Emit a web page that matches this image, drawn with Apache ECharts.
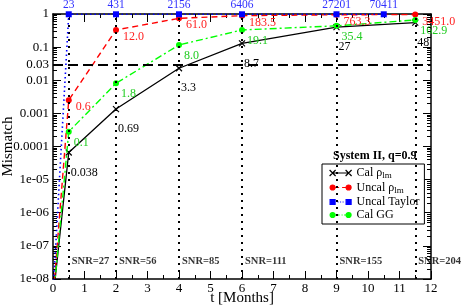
<!DOCTYPE html>
<html><head><meta charset="utf-8">
<script src="https://cdn.jsdelivr.net/npm/echarts@6/dist/echarts.min.js"></script>
<style>html,body{margin:0;padding:0;background:#fff}#c{width:463px;height:308px}</style>
</head><body><div id="c"></div>
<script>
// ---- data ----
const months = [0, 0.5, 2, 4, 6, 9, 11.5];
const taylorMonths = [0, 0.5, 2, 4, 6, 9, 10.5];
const calRho = [2.5e-9, 6.6e-5, 1.35e-3, 0.023, 0.13, 0.40, 0.55];
const uncalRho = [2.6e-9, 2.5e-3, 0.33, 0.74, 0.89, 0.95, 0.96];
const uncalTaylor = [3.5e-9, 0.98, 0.98, 0.98, 0.98, 0.98, 0.98];
const calGG = [2e-9, 2.8e-4, 8.1e-3, 0.116, 0.33, 0.44, 0.66];
const calRhoLabels = ['', '0.038', '0.69', '3.3', '8.7', '27', '48'];
const uncalRhoLabels = ['', '0.6', '12.0', '61.0', '183.5', '763.3', '3451.0'];
const taylorLabels = ['', '23', '431', '2156', '6406', '27201', '70411'];
const calGGLabels = ['', '0.1', '1.8', '8.0', '19.1', '35.4', '162.9'];
const snrMonths = [0.5, 2, 4, 6, 9, 11.5];
const snrLabels = ['SNR=27', 'SNR=56', 'SNR=85', 'SNR=111', 'SNR=155', 'SNR=204'];
const snrAnchor = 3.5e-8;
const threshold = 0.03;
const yTickValues = [1e-8, 1e-7, 1e-6, 1e-5, 1e-4, 1e-3, 0.01, 0.03, 0.1, 1];
const yTickLabels = ['1e-08', '1e-07', '1e-06', '1e-05', '0.0001', '0.001', '0.01', '0.03', '0.1', '1'];
const yMajor = [1e-8, 1e-7, 1e-6, 1e-5, 1e-4, 1e-3, 0.01, 0.1, 1];
const seriesNames = ['Cal ρlm', 'Uncal ρlm', 'Uncal Taylor', 'Cal GG'];
const legendTexts = ['Cal ρ{s|lm}', 'Uncal ρ{s|lm}', 'Uncal Taylor', 'Cal GG'];

// ---- build ----
const yMinor = [];
for (let e = -8; e < 0; e++) for (let m = 2; m <= 9; m++) yMinor.push(m * Math.pow(10, e));
const FONT = 'Liberation Serif';
const pairs = (xs, ys) => xs.map((x, i) => [x, ys[i]]);
function yLabel(v) {
  for (let i = 0; i < yTickValues.length; i++) {
    if (Math.abs(Math.log10(v) - Math.log10(yTickValues[i])) < 1e-6) return yTickLabels[i];
  }
  return '';
}
const AL = { show: true, onZero: false, lineStyle: { color: '#000', width: 1.5 } };
const baseY = { type: 'log', logBase: 10, min: 1e-8, max: 1, splitLine: { show: false } };
const chart = echarts.init(document.getElementById('c'), null, { renderer: 'canvas' });
chart.setOption({
  animation: false,
  backgroundColor: '#fff',
  grid: { left: 53, right: 32, top: 14, bottom: 29, outerBoundsMode: 'none' },
  title: {
    text: 'System II, q=0.9', left: 333, top: 150, padding: 0,
    textStyle: { fontFamily: FONT, fontSize: 12, fontWeight: 'bold', color: '#000' }
  },
  legend: {
    orient: 'vertical', left: 322, top: 164, padding: [3, 5, 3, 7], itemGap: 1,
    itemWidth: 22, itemHeight: 6, backgroundColor: '#fff', borderColor: '#000', borderWidth: 1,
    selectedMode: false,
    formatter: name => legendTexts[seriesNames.indexOf(name)],
    textStyle: {
      fontFamily: FONT, fontSize: 12, color: '#000',
      rich: { s: { fontFamily: FONT, fontSize: 9, color: '#000', padding: [6, 0, 0, 0] } }
    },
    data: [
      { name: seriesNames[0], icon: 'path://M0,0L6,6M6,0L0,6M16,0L22,6M22,0L16,6M3,3L19,3', itemStyle: { color: '#000', borderColor: '#000', borderWidth: 1.2 } },
      { name: seriesNames[1], icon: 'path://M0.5,3A2.5,2.5 0 1,1 5.5,3A2.5,2.5 0 1,1 0.5,3ZM16.5,3A2.5,2.5 0 1,1 21.5,3A2.5,2.5 0 1,1 16.5,3ZM6,3L9.5,3M12.5,3L16,3M0,0M22,6', itemStyle: { color: '#f00', borderColor: '#f00', borderWidth: 1.2 } },
      { name: seriesNames[2], icon: 'path://M0.5,0.5L5.5,0.5L5.5,5.5L0.5,5.5ZM16.5,0.5L21.5,0.5L21.5,5.5L16.5,5.5ZM8,3L9,3M10.5,3L11.5,3M13,3L14,3M0,0M22,6', itemStyle: { color: '#00f', borderColor: '#00f', borderWidth: 1.2 } },
      { name: seriesNames[3], icon: 'path://M0.5,3A2.5,2.5 0 1,1 5.5,3A2.5,2.5 0 1,1 0.5,3ZM16.5,3A2.5,2.5 0 1,1 21.5,3A2.5,2.5 0 1,1 16.5,3ZM6,3L10,3M12,3L13,3M14.5,3L16,3M0,0M22,6', itemStyle: { color: '#0f0', borderColor: '#0f0', borderWidth: 1.2 } }
    ]
  },
  xAxis: [
    {
      type: 'value', min: 0, max: 12, interval: 1, position: 'bottom',
      name: 't [Months]', nameLocation: 'middle', nameGap: 12, nameMoveOverlap: false,
      nameTextStyle: { fontFamily: FONT, fontSize: 15, color: '#000' },
      axisLine: AL,
      axisTick: { show: true, inside: true, length: 8, lineStyle: { color: '#000', width: 1 } },
      minorTick: { show: true, splitNumber: 2, length: 4, lineStyle: { color: '#000', width: 1 } },
      axisLabel: { fontFamily: FONT, fontSize: 13, color: '#000', margin: 3 },
      splitLine: { show: false }
    },
    {
      type: 'value', min: 0, max: 12, interval: 1, position: 'top',
      axisLine: AL,
      axisTick: { show: true, inside: true, length: 8, lineStyle: { color: '#000', width: 1 } },
      minorTick: { show: true, splitNumber: 2, length: 4, lineStyle: { color: '#000', width: 1 } },
      axisLabel: { show: false },
      splitLine: { show: false }
    }
  ],
  yAxis: [
    Object.assign({}, baseY, {
      position: 'left',
      name: 'Mismatch', nameLocation: 'middle', nameGap: 37, nameRotate: 90, nameMoveOverlap: false,
      nameTextStyle: { fontFamily: FONT, fontSize: 15, color: '#000' },
      axisLine: AL,
      axisTick: { show: true, inside: true, length: 8, customValues: yMajor, lineStyle: { color: '#000', width: 1 } },
      axisLabel: { fontFamily: FONT, fontSize: 13, color: '#000', margin: 4, customValues: yTickValues, formatter: yLabel }
    }),
    Object.assign({}, baseY, {
      position: 'left',
      axisLine: { show: false, onZero: false },
      axisTick: { show: true, inside: true, length: 4, customValues: yMinor, lineStyle: { color: '#000', width: 1 } },
      axisLabel: { show: false }
    }),
    Object.assign({}, baseY, {
      position: 'right',
      axisLine: AL,
      axisTick: { show: true, inside: true, length: 8, customValues: yMajor, lineStyle: { color: '#000', width: 1 } },
      axisLabel: { show: false }
    }),
    Object.assign({}, baseY, {
      position: 'right',
      axisLine: { show: false, onZero: false },
      axisTick: { show: true, inside: true, length: 4, customValues: yMinor, lineStyle: { color: '#000', width: 1 } },
      axisLabel: { show: false }
    })
  ],
  series: [
    {
      name: seriesNames[0], type: 'line', data: pairs(months, calRho), z: 3,
      symbol: 'path://M0,0L10,10M10,0L0,10', symbolSize: 6,
      itemStyle: { color: '#000', borderColor: '#000', borderWidth: 1.2 },
      lineStyle: { color: '#000', width: 1.3 },
      label: { show: true, formatter: p => calRhoLabels[p.dataIndex], position: 'inside', align: 'left', verticalAlign: 'middle', offset: [2, 20], color: '#000', fontFamily: FONT, fontSize: 12 },
      markLine: {
        silent: true, symbol: ['none', 'none'], label: { show: false },
        lineStyle: { color: '#000', type: [2, 5], width: 2 },
        data: snrMonths.map(t => ({ xAxis: t })).concat([{ yAxis: threshold, lineStyle: { color: '#000', type: [10, 5], width: 2 } }])
      }
    },
    {
      name: seriesNames[1], type: 'line', data: pairs(months, uncalRho), z: 4,
      symbol: 'circle', symbolSize: 6,
      itemStyle: { color: '#f00' },
      lineStyle: { color: '#f00', width: 1.4, type: [6, 4] },
      label: { show: true, formatter: p => uncalRhoLabels[p.dataIndex], position: 'right', distance: 4, offset: [0, 7], color: '#ff2020', fontFamily: FONT, fontSize: 12 }
    },
    {
      name: seriesNames[2], type: 'line', data: pairs(taylorMonths, uncalTaylor), z: 5,
      symbol: 'rect', symbolSize: 6,
      itemStyle: { color: '#00f' },
      lineStyle: { color: '#00f', width: 1.6, type: [1.5, 3] },
      label: { show: true, formatter: p => taylorLabels[p.dataIndex], position: 'top', distance: 0, color: '#3030ff', fontFamily: FONT, fontSize: 11.5 }
    },
    {
      name: seriesNames[3], type: 'line', data: pairs(months, calGG), z: 4,
      symbol: 'circle', symbolSize: 6,
      itemStyle: { color: '#0f0' },
      lineStyle: { color: '#0f0', width: 1.4, type: [7, 3, 2, 3] },
      label: { show: true, formatter: p => calGGLabels[p.dataIndex], position: 'right', distance: 2, offset: [0, 11], color: '#22cc22', fontFamily: FONT, fontSize: 12 }
    },
    {
      name: 'snr', type: 'scatter', data: snrMonths.map(t => [t, snrAnchor]), z: 6, silent: true,
      symbolSize: 0,
      label: { show: true, formatter: p => snrLabels[p.dataIndex], position: 'inside', align: 'left', verticalAlign: 'middle', offset: [3, 0], color: '#000', fontFamily: FONT, fontSize: 10.5, fontWeight: 'bold' }
    }
  ]
});
</script></body></html>
